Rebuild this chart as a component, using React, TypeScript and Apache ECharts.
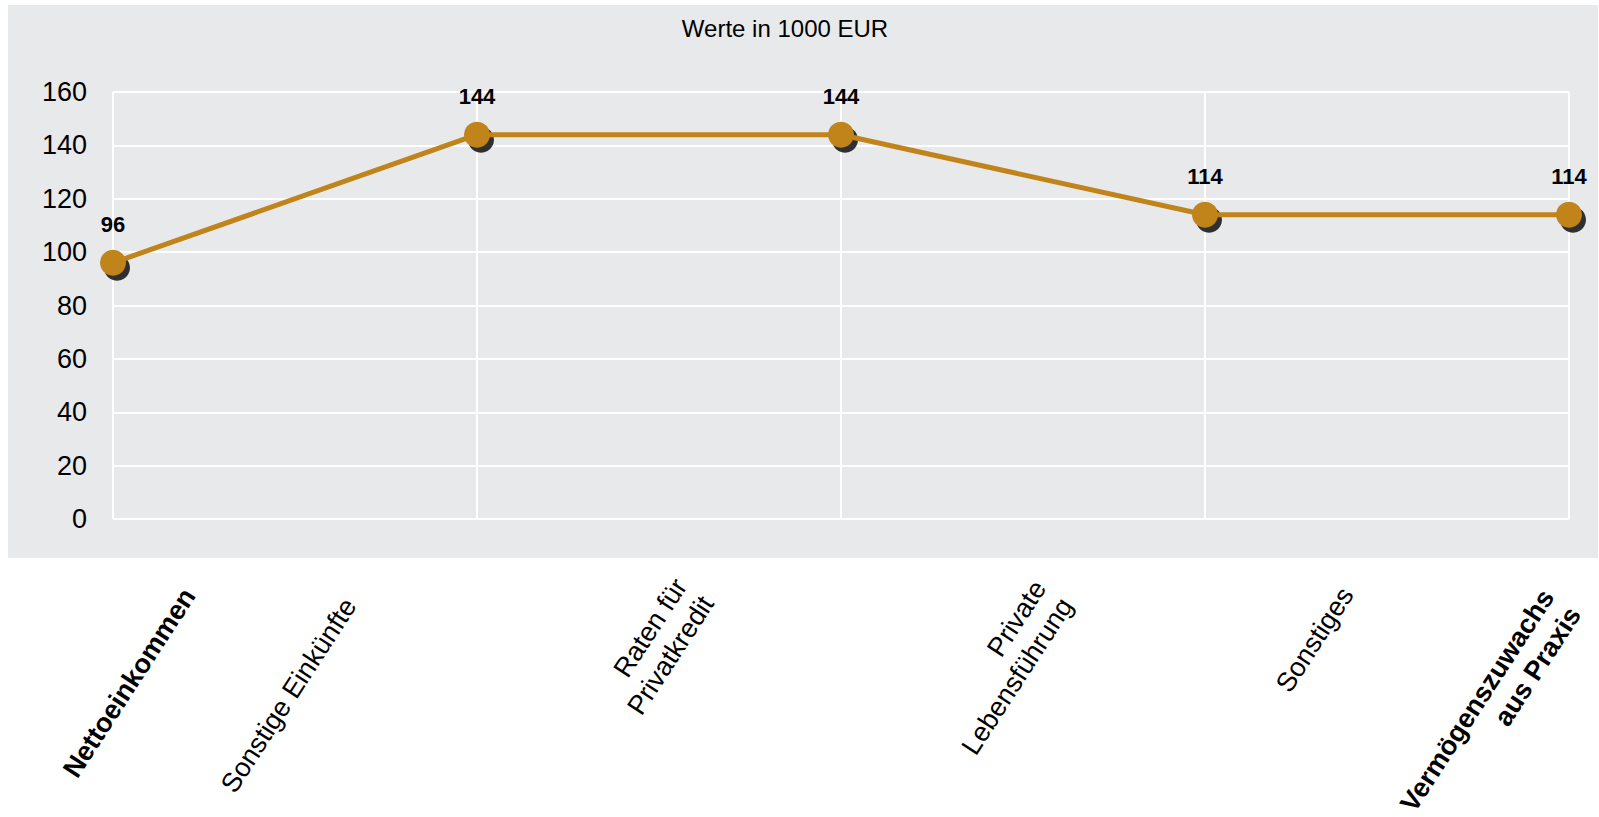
import React, { useEffect, useRef } from "react";
import * as echarts from "echarts";

const titleText = "Werte in 1000 EUR";
const pointKeys = ["P1", "P2", "P3", "P4", "P5"];
const values = [96, 144, 144, 114, 114];
const categoryLabels = [
  "Nettoeinkommen",
  "Sonstige Einkünfte",
  "Raten für\nPrivatkredit",
  "Private\nLebensführung",
  "Sonstiges",
  "Vermögenszuwachs\naus Praxis",
];
const categoryBold = [true, false, false, false, false, true];
const yMin = 0;
const yMax = 160;
const yInterval = 20;

// layout (positions of the rotated category captions)
const captionAnchors: [number, number][] = [
  [189, 591],
  [350, 601],
  [694, 590],
  [1053, 592],
  [1347, 590],
  [1561, 601],
];

const FONT = "'Liberation Sans', Arial, sans-serif";
const LINE_COLOR = "#C0841A";

export default function App() {
  const ref = useRef<HTMLDivElement>(null);
  useEffect(() => {
    if (!ref.current) return;
    const chart = echarts.init(ref.current, undefined, { renderer: "svg" });
    const rot = (57 * Math.PI) / 180;
    const captions = categoryLabels.map((t, i) => ({
      type: "text",
      x: captionAnchors[i][0],
      y: captionAnchors[i][1],
      rotation: rot,
      z: 10,
      style: {
        text: t,
        fill: "#000",
        font: `${categoryBold[i] ? "bold " : ""}27px ${FONT}`,
        align: "right",
        verticalAlign: "middle",
        lineHeight: 32,
      },
    }));
    chart.setOption({
      animation: false,
      backgroundColor: "#ffffff",
      textStyle: { fontFamily: FONT },
      graphic: [
        {
          type: "rect",
          shape: { x: 8, y: 5, width: 1590, height: 553 },
          style: { fill: "#E8E9EB" },
          z: -10,
          silent: true,
        },
        {
          type: "text",
          x: 785,
          y: 28,
          style: {
            text: titleText,
            fill: "#000",
            font: `24px ${FONT}`,
            align: "center",
            verticalAlign: "middle",
          },
        },
        ...captions,
      ],
      grid: { left: 113, right: 30, top: 92, bottom: 298 },
      xAxis: {
        type: "category",
        data: pointKeys,
        boundaryGap: false,
        axisLine: { show: false },
        axisTick: { show: false },
        axisLabel: { show: false },
        splitLine: { show: true, lineStyle: { color: "#ffffff", width: 2 } },
      },
      yAxis: {
        type: "value",
        min: yMin,
        max: yMax,
        interval: yInterval,
        axisLine: { show: false },
        axisTick: { show: false },
        axisLabel: { fontSize: 27, color: "#000", margin: 26, fontFamily: FONT },
        splitLine: { show: true, lineStyle: { color: "#ffffff", width: 2 } },
      },
      series: [
        {
          type: "scatter",
          data: values,
          symbol: "circle",
          symbolSize: 26,
          symbolOffset: [4, 5],
          itemStyle: { color: "#000000" },
          z: 1,
          silent: true,
        },
        {
          type: "line",
          data: values,
          symbol: "circle",
          symbolSize: 26,
          showSymbol: true,
          lineStyle: { color: LINE_COLOR, width: 5 },
          itemStyle: { color: LINE_COLOR },
          z: 2,
          label: {
            show: true,
            position: "top",
            distance: 14,
            fontSize: 22,
            fontWeight: "bold",
            color: "#000",
            fontFamily: FONT,
          },
        },
      ],
    });
    return () => chart.dispose();
  }, []);
  return (
    <div
      ref={ref}
      style={{ position: "fixed", left: 0, top: 0, width: 1599, height: 817 }}
    />
  );
}
